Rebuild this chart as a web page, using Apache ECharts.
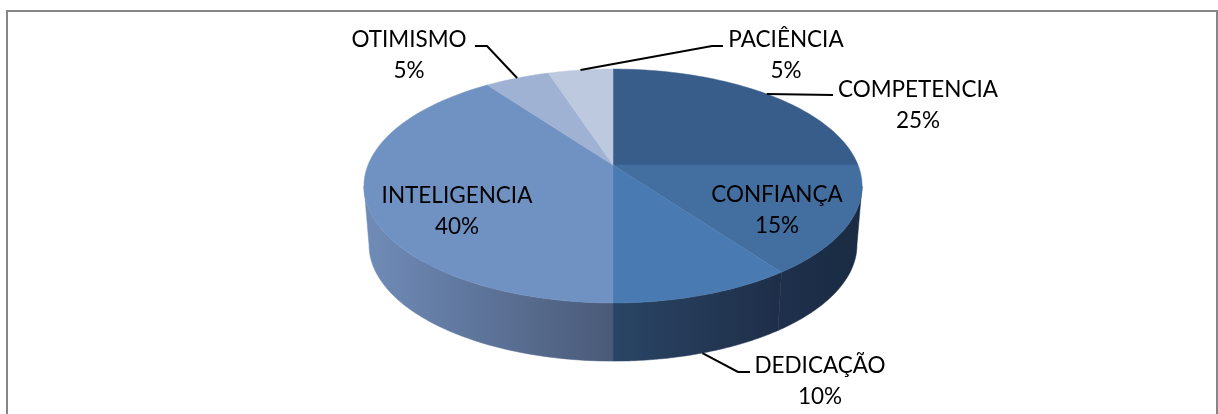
<!DOCTYPE html>
<html>
<head>
<meta charset="utf-8">
<style>
  html, body { margin: 0; padding: 0; background: #fff; }
  #chart { width: 1218px; height: 414px; }
</style>
<script src="https://cdn.jsdelivr.net/npm/echarts@6/dist/echarts.min.js"></script>
</head>
<body>
<div id="chart"></div>
<script>
const sliceNames = ['COMPETENCIA', 'CONFIANÇA', 'DEDICAÇÃO', 'INTELIGENCIA', 'OTIMISMO', 'PACIÊNCIA']
const sliceValues = [25, 15, 10, 40, 5, 5]

const topColors = ['#385d8a', '#426ea0', '#4a7ab2', '#7092c3', '#9fb2d3', '#bdc9de']
const wallColors = [
  ['#1b2c45', '#1b2c45'],
  ['#1e304b', '#1a2b43'],
  ['#2a4565', '#1e2e48'],
  ['#6f8cb8', '#4a5a78'],
  ['#6f8cb8', '#6f8cb8'],
  ['#6f8cb8', '#6f8cb8']
]

// label block centre, plus the bend of the leader line (null when the label sits on the slice)
const labelLayout = [
  { x: 918, y: 105, path: [[833, 95]] },
  { x: 777, y: 210, path: null },
  { x: 820, y: 381, path: [[738, 372], [750, 372]], onWall: true },
  { x: 457, y: 211, path: null },
  { x: 409, y: 55, path: [[487, 46], [475, 46]] },
  { x: 786, y: 55, path: [[712, 46], [723, 46]] }
]

// the tilted disc: a circle seen in perspective, apex is where the slices meet
const topRim = { cx: 613, cy: 165, rx: 245, ry: 113.2, tilt: -0.1795 }
const bottomRim = { cx: 613, cy: 224, rx: 240, ry: 112.5, tilt: -0.1795 }

// the wall only shows between the two points where the rim is tangent to the silhouette
const wallStart = Math.acos(topRim.tilt)
const wallEnd = Math.PI * 2 - wallStart

const project = (rim, angle) => {
  const X = Math.sin(angle)
  const Y = -Math.cos(angle)
  const d = 1 + rim.tilt * Y
  return [rim.cx + rim.rx * X / d, rim.cy + rim.ry * Y / d]
}

const total = sliceValues.reduce((a, b) => a + b, 0)
const startShares = sliceValues.map((_, i) =>
  sliceValues.slice(0, i).reduce((a, b) => a + b, 0) / total)

const arcPoints = (rim, from, to) => {
  const pts = []
  const steps = 60
  for (let i = 0; i <= steps; i++) pts.push(project(rim, from + (to - from) * i / steps))
  return pts
}

const renderSlice = (params, api) => {
  const i = params.dataIndex
  const value = api.value(0)
  const from = startShares[i] * Math.PI * 2
  const to = from + value / total * Math.PI * 2
  const mid = (from + to) / 2
  const layout = labelLayout[i]
  const topArc = arcPoints(topRim, from, to)

  const children = [
    {
      type: 'polygon',
      z2: 2,
      shape: { points: [[topRim.cx, topRim.cy]].concat(topArc) },
      style: { fill: topColors[i], stroke: topColors[i], lineWidth: 0.5 }
    },
    {
      type: 'text',
      z2: 4,
      style: {
        x: layout.x,
        y: layout.y,
        text: sliceNames[i] + '\n' + value + '%',
        fill: '#000',
        font: '22.5px Lato',
        lineHeight: 31,
        align: 'center',
        verticalAlign: 'middle'
      }
    }
  ]

  const wallFrom = Math.max(from, wallStart)
  const wallTo = Math.min(to, wallEnd)
  if (wallTo > wallFrom) {
    const wallFill = new echarts.graphic.LinearGradient(0, 0, 1, 0, [
      { offset: 0, color: wallColors[i][0] },
      { offset: 1, color: wallColors[i][1] }
    ])
    children.push({
      type: 'polygon',
      z2: 1,
      shape: { points: arcPoints(topRim, wallFrom, wallTo).concat(arcPoints(bottomRim, wallTo, wallFrom)) },
      style: { fill: wallFill, stroke: wallFill, lineWidth: 0.5 }
    })
  }

  if (layout.path) {
    const anchor = project(layout.onWall ? bottomRim : topRim, mid)
    children.push({
      type: 'polyline',
      z2: 3,
      shape: { points: [anchor].concat(layout.path) },
      style: { fill: 'none', stroke: '#000', lineWidth: 2 }
    })
  }
  return { type: 'group', children }
}

const chart = echarts.init(document.getElementById('chart'))
chart.setOption({
  animation: false,
  backgroundColor: '#fff',
  graphic: [{
    type: 'rect',
    shape: { x: 7, y: 11, width: 1210, height: 420 },
    style: { fill: 'none', stroke: '#868686', lineWidth: 2 }
  }],
  series: [{
    type: 'custom',
    coordinateSystem: 'none',
    data: sliceValues.map((v, i) => ({ name: sliceNames[i], value: [v] })),
    renderItem: renderSlice
  }]
})
</script>
</body>
</html>
